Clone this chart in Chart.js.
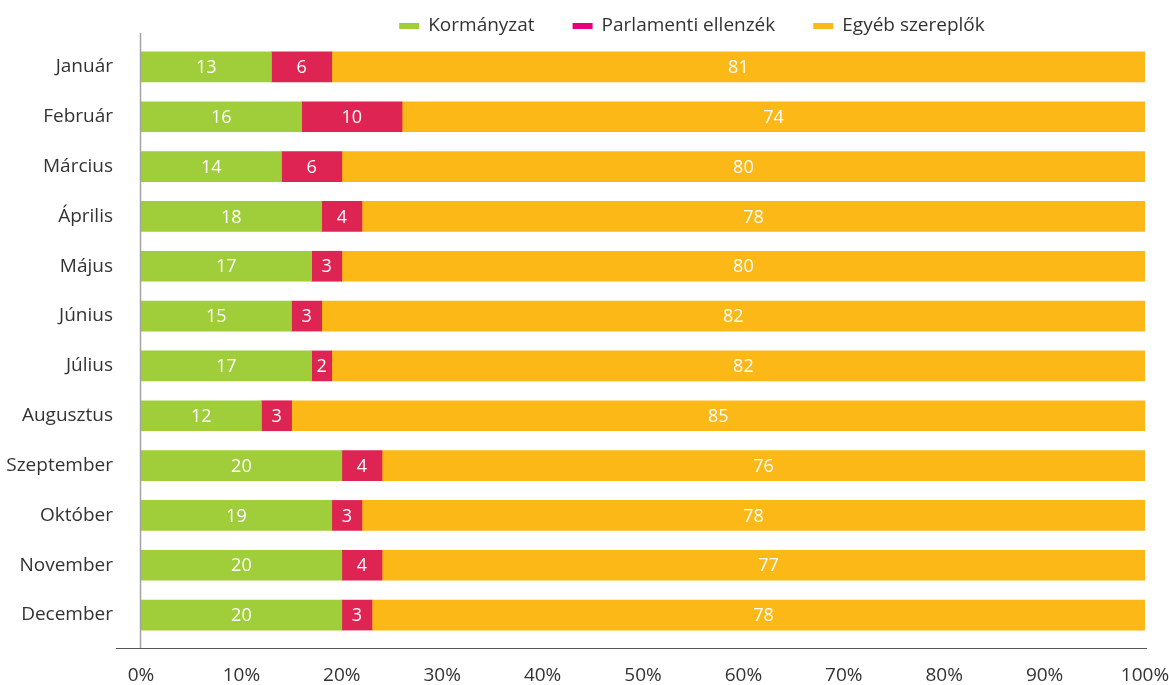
<!DOCTYPE html>
<html>
<head>
<meta charset="utf-8">
<script src="https://cdn.jsdelivr.net/npm/chart.js@4.4.1/dist/chart.umd.min.js"></script>
<style>
  html, body { margin: 0; padding: 0; background: #fff; }
  #wrap { width: 1169px; height: 685px; position: relative; }
</style>
</head>
<body>
<div id="wrap"><canvas id="chart"></canvas></div>
<script>
const months = ["Január", "Február", "Március", "Április", "Május", "Június",
  "Július", "Augusztus", "Szeptember", "Október", "November", "December"];
const seriesNames = ["Kormányzat", "Parlamenti ellenzék", "Egyéb szereplők"];
const kormanyzat = [13, 16, 14, 18, 17, 15, 17, 12, 20, 19, 20, 20];
const ellenzek = [6, 10, 6, 4, 3, 3, 2, 3, 4, 3, 4, 3];
const egyeb = [81, 74, 80, 78, 80, 82, 82, 85, 76, 78, 77, 78];
const xTickValues = [0, 10, 20, 30, 40, 50, 60, 70, 80, 90, 100];

const barColors = ["#a0cd3a", "#de2452", "#fbb817"];
const legendColors = ["#a0cd3a", "#e5007e", "#fbb817"];
const fontFamily = "'Open Sans', sans-serif";
const textColor = "#333333";

// white value labels in the middle of each segment
const segmentLabels = {
  id: "segmentLabels",
  afterDatasetsDraw(chart) {
    const ctx = chart.ctx;
    ctx.save();
    ctx.fillStyle = "#ffffff";
    ctx.font = "18px " + fontFamily;
    ctx.textAlign = "center";
    ctx.textBaseline = "middle";
    chart.data.datasets.forEach((ds, i) => {
      chart.getDatasetMeta(i).data.forEach((bar, j) => {
        ctx.fillText(ds.data[j], (bar.x + bar.base) / 2, bar.y + 1);
      });
    });
    ctx.restore();
  }
};

// axis lines: grey vertical, dark horizontal a bit below the bars
const axisLines = {
  id: "axisLines",
  afterDraw(chart) {
    const a = chart.chartArea;
    const ctx = chart.ctx;
    ctx.save();
    ctx.strokeStyle = "#a3a3a3";
    ctx.lineWidth = 1.5;
    ctx.beginPath();
    ctx.moveTo(a.left - 0.5, a.top - 9);
    ctx.lineTo(a.left - 0.5, a.bottom + 9);
    ctx.stroke();
    ctx.strokeStyle = "#555555";
    ctx.lineWidth = 1.2;
    ctx.beginPath();
    ctx.moveTo(a.left - 25, a.bottom + 8.5);
    ctx.lineTo(a.right + 2, a.bottom + 8.5);
    ctx.stroke();
    ctx.restore();
  }
};

// legend drawn above the plot, thin colour bars before each name
const topLegend = {
  id: "topLegend",
  afterDraw(chart) {
    const ctx = chart.ctx;
    ctx.save();
    ctx.font = "19px " + fontFamily;
    ctx.textBaseline = "middle";
    const boxW = 20, gapText = 9, gapItem = 38;
    let widths = seriesNames.map(n => boxW + gapText + ctx.measureText(n).width);
    let total = widths.reduce((s, w) => s + w, 0) + gapItem * (seriesNames.length - 1);
    let x = (chart.chartArea.left + chart.chartArea.right) / 2 + 49 - total / 2;
    const y = 26;
    seriesNames.forEach((n, i) => {
      ctx.fillStyle = legendColors[i];
      ctx.fillRect(x, y - 3, boxW, 6);
      ctx.fillStyle = textColor;
      ctx.fillText(n, x + boxW + gapText, y);
      x += widths[i] + gapItem;
    });
    ctx.restore();
  }
};

new Chart(document.getElementById("chart"), {
  type: "bar",
  data: {
    labels: months,
    datasets: [
      { label: seriesNames[0], data: kormanyzat, backgroundColor: barColors[0] },
      { label: seriesNames[1], data: ellenzek, backgroundColor: barColors[1] },
      { label: seriesNames[2], data: egyeb, backgroundColor: barColors[2] }
    ]
  },
  options: {
    indexAxis: "y",
    responsive: true,
    maintainAspectRatio: false,
    animation: false,
    layout: { padding: { top: 42, right: 24, left: 0, bottom: 0 } },
    datasets: { bar: { barThickness: 30, borderWidth: 0 } },
    plugins: {
      legend: { display: false },
      tooltip: { enabled: false }
    },
    scales: {
      x: {
        stacked: true,
        min: 0,
        max: 100,
        afterBuildTicks(scale) {
          scale.ticks = xTickValues.map(v => ({ value: v }));
        },
        afterFit(scale) {
          scale.height = 45;
          scale.paddingLeft = 0;
          scale.paddingRight = 0;
        },
        grid: { display: false, drawTicks: false },
        border: { display: false },
        ticks: {
          padding: 24,
          maxRotation: 0,
          color: textColor,
          font: { family: fontFamily, size: 19 },
          callback: v => v + "%"
        }
      },
      y: {
        stacked: true,
        afterFit(scale) { scale.width = 141; },
        grid: { display: false, drawTicks: false },
        border: { display: false },
        ticks: {
          padding: 28,
          color: textColor,
          font: { family: fontFamily, size: 19 }
        }
      }
    }
  },
  plugins: [segmentLabels, axisLines, topLegend]
});
</script>
</body>
</html>
